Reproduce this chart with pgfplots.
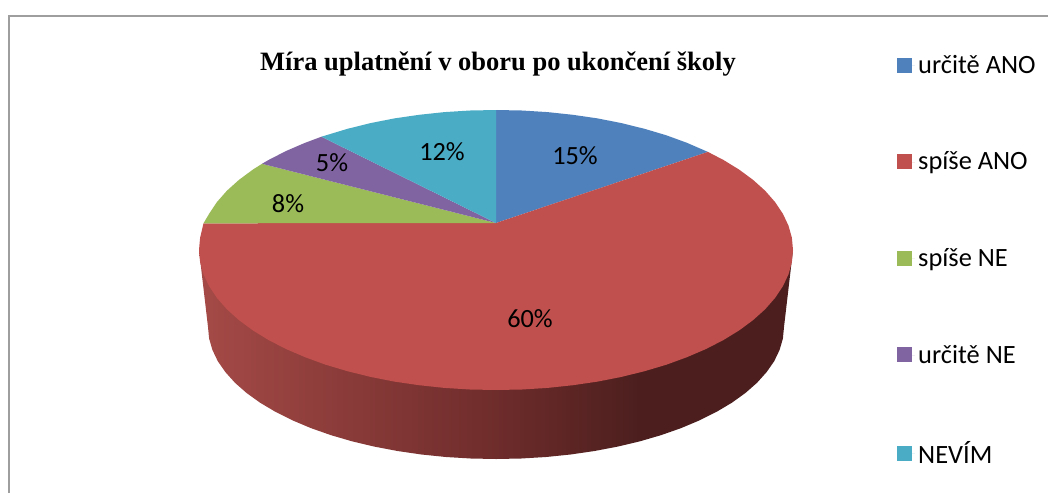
\documentclass[border=0pt]{standalone}
\usepackage{pgfplots}
\pgfplotsset{compat=1.18}
\usepackage{fontspec}
\setmainfont{Carlito}
\newfontfamily\titlefont{Liberation Serif}
\definecolor{cblue}{HTML}{4F81BD}
\definecolor{cred}{HTML}{C0504D}
\definecolor{cgreen}{HTML}{9BBB59}
\definecolor{cpurple}{HTML}{8064A2}
\definecolor{cteal}{HTML}{4BACC6}
\definecolor{sa}{HTML}{A54A47}
\definecolor{sb}{HTML}{6E2C2B}
\definecolor{sc}{HTML}{4C1F1E}
\pgfdeclarehorizontalshading{sideshade}{100bp}{color(0bp)=(sa); color(25bp)=(sa); color(50bp)=(sb); color(62bp)=(sc); color(100bp)=(sc)}
\begin{document}
\begin{tikzpicture}
\path[use as bounding box] (0pt,0pt) rectangle (1048pt,493pt);
\begin{axis}[
  at={(0pt,0pt)}, anchor=south west,
  scale only axis, width=1048pt, height=493pt,
  xmin=0, xmax=1048, ymin=0, ymax=493, y dir=reverse,
  axis lines=none, clip=false,
  legend image code/.code={\path (0pt,0pt) rectangle (18pt,0pt); \fill[#1] (0pt,-7.5pt) rectangle (15pt,7.5pt);},
  legend cell align=left,
  legend style={at={(axis cs:893,55)}, anchor=north west, draw=none, fill=none,
    font=\fontsize{26.4}{31}\selectfont, row sep=77pt, inner xsep=4pt, inner ysep=0pt,
    nodes={inner xsep=3pt, inner ysep=0pt}},
]
% frame
\addplot[draw=black!38, line width=2pt, forget plot] coordinates {(9,493) (9,15.5) (1048,15.5)};
% side of the pie
\addplot[draw=none, shade, shading=sideshade, forget plot] coordinates {
(199,250)(208,327)(209.1,338.5)(212.4,349.9)(217.8,361.2)(225.4,372.1)(235,382.8)(246.6,393)(260.1,402.7)(275.4,411.8)(292.4,420.3)(310.9,428.1)(330.8,435.1)(352,441.3)(374.3,446.6)(397.5,451)(421.5,454.5)(446,457)(470.9,458.5)(496,459)(521.1,458.5)(546,457)(570.5,454.5)(594.5,451)(617.7,446.6)(640,441.3)(661.2,435.1)(681.1,428.1)(699.6,420.3)(716.6,411.8)(731.9,402.7)(745.4,393)(757,382.8)(766.6,372.1)(774.2,361.2)(779.6,349.9)(782.9,338.5)(784,327)(793,250)} --cycle;
% top sectors
\addplot[draw=none, fill=cblue] coordinates {
(496,223)(496,110)(521.9,110.5)(547.6,112.1)(572.9,114.8)(597.6,118.4)(621.5,123.1)(644.5,128.8)(666.4,135.3)(686.9,142.8)(707.9,151.9)} --cycle;
\addlegendentry{určitě ANO}
\addplot[draw=none, fill=cred] coordinates {
(496,223)(707.9,151.9)(723.5,160)(739.3,169.7)(753.2,180)(765.2,190.8)(775.1,202.1)(782.9,213.8)(788.5,225.7)(791.9,237.8)(793,250)(791.9,262.2)(788.5,274.3)(782.9,286.2)(775.1,297.9)(765.2,309.2)(753.2,320)(739.3,330.3)(723.5,340)(706,349)(686.9,357.2)(666.4,364.7)(644.5,371.2)(621.5,376.9)(597.6,381.6)(572.9,385.2)(547.6,387.9)(521.9,389.5)(496,390)(470.1,389.5)(444.4,387.9)(419.1,385.2)(394.4,381.6)(370.5,376.9)(347.5,371.2)(325.6,364.7)(305.1,357.2)(286,349)(268.5,340)(252.7,330.3)(238.8,320)(226.8,309.2)(216.9,297.9)(209.1,286.2)(203.5,274.3)(200.1,262.2)(199,250)(200.1,237.8)(203.5,223.3)} --cycle;
\addlegendentry{spíše ANO}
\addplot[draw=none, fill=cgreen] coordinates {
(496,223)(203.5,223.3)(209.1,213.8)(216.9,202.1)(226.8,190.8)(238.8,180)(252.7,169.7)(262,163.8)} --cycle;
\addlegendentry{spíše NE}
\addplot[draw=none, fill=cpurple] coordinates {
(496,223)(262,163.8)(268.5,160)(286,151)(305.1,142.8)(321.4,136.7)} --cycle;
\addlegendentry{určitě NE}
\addplot[draw=none, fill=cteal] coordinates {
(496,223)(321.4,136.7)(347.5,128.8)(370.5,123.1)(394.4,118.4)(419.1,114.8)(444.4,112.1)(470.1,110.5)(496,110)} --cycle;
\addlegendentry{NEVÍM}
% labels
\node[font=\fontsize{26.3}{31}\selectfont] at (axis cs:575,156) {15\%};
\node[font=\fontsize{26.3}{31}\selectfont] at (axis cs:530,319) {60\%};
\node[font=\fontsize{26.3}{31}\selectfont] at (axis cs:288,204) {8\%};
\node[font=\fontsize{26.3}{31}\selectfont] at (axis cs:332,163) {5\%};
\node[font=\fontsize{26.3}{31}\selectfont] at (axis cs:442,152) {12\%};
\node[font=\titlefont\bfseries\fontsize{26.5}{31}\selectfont] at (axis cs:498,64.5) {Míra uplatnění v oboru po ukončení školy};
\end{axis}
\end{tikzpicture}
\end{document}
